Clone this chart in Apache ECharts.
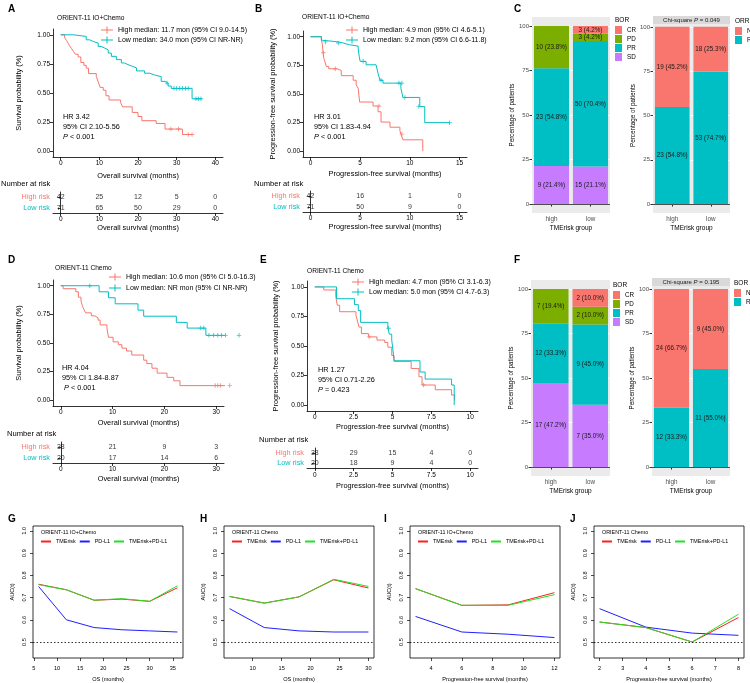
<!DOCTYPE html>
<html><head><meta charset="utf-8">
<script src="https://cdn.jsdelivr.net/npm/echarts@6/dist/echarts.min.js"></script>
<style>html,body{margin:0;padding:0;background:#fff}#c{width:750px;height:683px}</style>
</head><body><div id="c"></div>
<script>
// ================= DATA =================
// --- A: OS, ORIENT-11 IO+Chemo ---
const A_high_t = [0, 1.0, 1.5, 1.9, 2.3, 2.8, 3.3, 3.8, 4.5, 5.2, 6.0, 6.6, 7.2, 9.2, 9.7, 10.2, 11.0, 11.7, 12.5, 15.5, 16.0, 18.5, 20.0, 21.0, 24.7, 27.0, 31.5, 34.0];
const A_high_s = [1, 0.976, 0.952, 0.929, 0.905, 0.881, 0.857, 0.833, 0.810, 0.762, 0.738, 0.714, 0.667, 0.643, 0.595, 0.548, 0.524, 0.476, 0.440, 0.417, 0.381, 0.333, 0.298, 0.262, 0.238, 0.190, 0.143, 0.143];
const A_high_cens = [[28.5, 0.190], [30.5, 0.190], [33.0, 0.143], [34.0, 0.143]];
const A_low_t = [0, 3.4, 6.6, 7.5, 8.4, 9.7, 10.5, 11.4, 12.3, 13.1, 14.4, 15.7, 16.5, 17.4, 18.5, 19.6, 21.7, 23.0, 24.3, 26.0, 27.0, 27.8, 28.6, 34.0, 36.5];
const A_low_s = [1, 0.986, 0.957, 0.943, 0.929, 0.900, 0.886, 0.870, 0.843, 0.815, 0.787, 0.758, 0.744, 0.730, 0.716, 0.690, 0.670, 0.655, 0.640, 0.600, 0.585, 0.560, 0.540, 0.450, 0.450];
const A_low_cens = [[27.5, 0.585], [29.3, 0.54], [30.0, 0.54], [30.8, 0.54], [31.5, 0.54], [32.3, 0.54], [33.0, 0.54], [35.0, 0.45], [35.6, 0.45], [36.3, 0.45]];
const A_risk_times = [0, 10, 20, 30, 40];
const A_risk_high = [42, 25, 12, 5, 0];
const A_risk_low = [71, 65, 50, 29, 0];

// --- B: PFS, ORIENT-11 IO+Chemo ---
const B_high_t = [0, 1.1, 1.2, 1.27, 1.35, 1.44, 1.6, 1.84, 2.7, 3.1, 4.3, 4.6, 4.8, 4.95, 6.3, 6.8, 7.1, 8.0, 9.0, 9.1, 9.3, 11.3];
const B_high_s = [1, 0.976, 0.93, 0.86, 0.81, 0.785, 0.74, 0.72, 0.705, 0.66, 0.62, 0.58, 0.55, 0.43, 0.395, 0.345, 0.255, 0.21, 0.18, 0.15, 0.10, 0];
const B_high_cens = [[1.3, 0.86], [2.5, 0.72], [6.9, 0.395], [9.2, 0.15]];
const B_low_t = [0, 1.1, 1.3, 2.8, 3.3, 3.9, 4.8, 4.9, 5.0, 5.6, 6.6, 6.8, 7.0, 7.3, 9.1, 9.3, 11.0, 11.5, 14.0];
const B_low_s = [1, 0.97, 0.955, 0.945, 0.93, 0.918, 0.90, 0.83, 0.785, 0.755, 0.74, 0.68, 0.62, 0.595, 0.55, 0.47, 0.39, 0.25, 0.25];
const B_low_cens = [[1.5, 0.955], [2.8, 0.945], [5.3, 0.785], [7.1, 0.62], [8.9, 0.595], [9.2, 0.595], [9.5, 0.47], [10.9, 0.39], [14.0, 0.25]];
const B_risk_times = [0, 5, 10, 15];
const B_risk_high = [42, 16, 1, 0];
const B_risk_low = [71, 50, 9, 0];

// --- D: OS, ORIENT-11 Chemo ---
const D_high_t = [0, 0.45, 2.9, 3.4, 3.9, 4.2, 4.5, 4.8, 5.9, 6.6, 7.2, 7.6, 8.9, 9.2, 10.1, 11.1, 11.8, 12.7, 13.7, 16.0, 16.6, 17.6, 18.6, 20.5, 21.8, 23.0, 32.6];
const D_high_s = [1, 0.974, 0.947, 0.90, 0.868, 0.82, 0.79, 0.763, 0.737, 0.72, 0.70, 0.658, 0.632, 0.55, 0.51, 0.485, 0.455, 0.43, 0.395, 0.35, 0.32, 0.28, 0.237, 0.20, 0.17, 0.128, 0.128];
const D_high_cens = [[29.8, 0.128], [30.3, 0.128], [30.8, 0.128], [32.6, 0.128]];
const D_low_t = [0, 7.4, 9.2, 10.5, 14.9, 16.0, 22.3, 24.4, 28.0, 34.4];
const D_low_s = [1, 0.947, 0.895, 0.842, 0.787, 0.734, 0.68, 0.63, 0.567, 0.567];
const D_low_cens = [[5.6, 1], [27.0, 0.63], [27.6, 0.63], [28.6, 0.567], [29.5, 0.567], [30.3, 0.567], [31.0, 0.567], [31.8, 0.567], [34.4, 0.567]];
const D_risk_times = [0, 10, 20, 30];
const D_risk_high = [38, 21, 9, 3];
const D_risk_low = [20, 17, 14, 6];

// --- E: PFS, ORIENT-11 Chemo ---
const E_high_t = [0, 0.58, 1.35, 1.45, 1.6, 2.65, 2.73, 2.85, 3.0, 3.45, 4.0, 4.5, 4.7, 4.95, 5.1, 6.2, 6.7, 6.9, 7.75, 8.8, 9.0];
const E_high_s = [1, 0.974, 0.92, 0.845, 0.79, 0.76, 0.72, 0.66, 0.605, 0.577, 0.55, 0.53, 0.49, 0.42, 0.37, 0.31, 0.24, 0.17, 0.13, 0.085, 0.04];
const E_high_cens = [[3.5, 0.577], [7.0, 0.17]];
const E_low_t = [0, 1.4, 2.55, 2.8, 2.95, 4.7, 4.8, 4.95, 5.0, 5.1, 6.77, 7.1, 8.8, 8.97];
const E_low_s = [1, 0.90, 0.85, 0.80, 0.70, 0.65, 0.60, 0.55, 0.50, 0.375, 0.28, 0.22, 0.17, 0];
const E_low_cens = [[4.75, 0.65]];
const E_risk_times = [0, 2.5, 5, 7.5, 10];
const E_risk_high = [38, 29, 15, 4, 0];
const E_risk_low = [20, 18, 9, 4, 0];

// --- C / F: response bars (stack order bottom -> top) ---
const groups = ['high', 'low'];
const bor_levels = ['SD', 'PR', 'PD', 'CR'];
const orr_levels = ['R', 'NR'];
const C_bor_n_SD = [9, 15],  C_bor_pct_SD = [21.4, 21.1];
const C_bor_n_PR = [23, 50], C_bor_pct_PR = [54.8, 70.4];
const C_bor_n_PD = [10, 3],  C_bor_pct_PD = [23.8, 4.2];
const C_bor_n_CR = [0, 3],   C_bor_pct_CR = [0, 4.2];
const C_orr_n_R = [23, 53],  C_orr_pct_R = [54.8, 74.7];
const C_orr_n_NR = [19, 18], C_orr_pct_NR = [45.2, 25.3];
const C_chisq_p = '0.049';
const F_bor_n_SD = [17, 7],  F_bor_pct_SD = [47.2, 35.0];
const F_bor_n_PR = [12, 9],  F_bor_pct_PR = [33.3, 45.0];
const F_bor_n_PD = [7, 2],   F_bor_pct_PD = [19.4, 10.0];
const F_bor_n_CR = [0, 2],   F_bor_pct_CR = [0, 10.0];
const F_orr_n_R = [12, 11],  F_orr_pct_R = [33.3, 55.0];
const F_orr_n_NR = [24, 9],  F_orr_pct_NR = [66.7, 45.0];
const F_chisq_p = '0.195';

// --- G-J: time-dependent AUC ---
const G_t = [6, 12, 18, 24, 30, 36];
const G_tme = [0.76, 0.735, 0.688, 0.693, 0.683, 0.744];
const G_pdl1 = [0.75, 0.60, 0.565, 0.555, 0.55, 0.545];
const G_comb = [0.758, 0.735, 0.688, 0.695, 0.683, 0.753];
const H_t = [6, 12, 18, 24, 30];
const H_tme = [0.705, 0.675, 0.703, 0.78, 0.743];
const H_pdl1 = [0.65, 0.565, 0.55, 0.545, 0.545];
const H_comb = [0.705, 0.675, 0.703, 0.782, 0.75];
const I_t = [3, 6, 9, 12];
const I_tme = [0.74, 0.665, 0.667, 0.722];
const I_pdl1 = [0.615, 0.545, 0.535, 0.52];
const I_comb = [0.74, 0.665, 0.665, 0.713];
const J_t = [2, 4, 6, 8];
const J_tme = [0.59, 0.565, 0.50, 0.61];
const J_pdl1 = [0.65, 0.567, 0.54, 0.53];
const J_comb = [0.59, 0.565, 0.50, 0.625];

// ================= BUILD =================
const FONT = '"Liberation Sans", Arial, sans-serif';
const RED = '#F8766D', TEAL = '#00BFC4';
const BOR_COL = {CR: '#F8766D', PD: '#7CAE00', PR: '#00BFC4', SD: '#C77CFF'};
const ORR_COL = {NR: '#F8766D', R: '#00BFC4'};
const ROC_RED = '#FF2020', ROC_BLUE = '#2020FF', ROC_GREEN = '#22E022';
const grid = [], xAxis = [], yAxis = [], series = [], legend = [], graphic = [];
const PLUS = 'path://M2,0h1v5h-1z M0,2h5v1h-5z';
const KMICON = 'path://M0,3h12v1H0z M5.5,0h1v7h-1z';

function T(x, y, text, o) {
  o = o || {};
  const st = {text: text, fill: o.color || '#000', fontSize: o.size || 7, fontFamily: FONT,
    fontWeight: o.bold ? 'bold' : 'normal', align: o.align || 'left', verticalAlign: 'middle'};
  if (o.italicP) st.rich = {i: {fontStyle: 'italic', fontSize: o.size || 7, fontFamily: FONT, fill: o.color || '#000'}};
  graphic.push({type: 'text', x: x, y: y, rotation: o.rot || 0, silent: true, z: 100, style: st});
}
function axText(size, color) { return {fontSize: size, color: color || '#000', fontFamily: FONT}; }

function km(c) {
  const gi = grid.length;
  grid.push({left: c.left, top: c.top, width: c.width, height: c.height});
  xAxis.push({type: 'value', gridIndex: gi, min: c.xmin, max: c.xmax,
    axisLine: {show: true, onZero: false, lineStyle: {color: '#000', width: 0.8}},
    axisTick: {show: true, customValues: c.xticks, length: 3, lineStyle: {color: '#000', width: 0.8}},
    axisLabel: Object.assign({customValues: c.xticks, margin: 3}, axText(6.5)),
    splitLine: {show: false}, name: c.xname, nameLocation: 'middle', nameGap: c.xgap,
    nameTextStyle: axText(7.4)});
  yAxis.push({type: 'value', gridIndex: gi, min: -0.05, max: 1.05,
    axisLine: {show: true, onZero: false, lineStyle: {color: '#000', width: 0.8}},
    axisTick: {show: true, customValues: [0, 0.25, 0.5, 0.75, 1], length: 3, lineStyle: {color: '#000', width: 0.8}},
    axisLabel: Object.assign({customValues: [0, 0.25, 0.5, 0.75, 1], margin: 3, formatter: v => v.toFixed(2)}, axText(6.5)),
    splitLine: {show: false}, name: c.yname, nameLocation: 'middle', nameGap: c.ygap, nameRotate: 90,
    nameTextStyle: axText(7.4)});
  const names = [];
  c.curves.forEach(cv => {
    names.push(cv.name);
    series.push({type: 'line', name: cv.name, xAxisIndex: gi, yAxisIndex: gi, step: 'end', clip: false,
      data: cv.t.map((t, i) => [t, cv.s[i]]), symbol: 'none', showSymbol: false,
      lineStyle: {color: cv.color, width: 1}, itemStyle: {color: cv.color}, silent: true});
    series.push({type: 'scatter', xAxisIndex: gi, yAxisIndex: gi, data: cv.cens, symbol: PLUS, symbolSize: 4.5,
      itemStyle: {color: cv.color}, silent: true, clip: false});
  });
  legend.push({left: c.legLeft, top: c.legTop, orient: 'vertical', data: names, icon: KMICON,
    itemWidth: 12, itemHeight: 7, itemGap: c.legGap, selectedMode: false, padding: 0,
    textStyle: axText(7), itemStyle: {borderWidth: 0}});
}

function riskTable(c) {
  const gi = grid.length;
  grid.push({left: c.left, top: c.top, width: c.width, height: c.height});
  xAxis.push({type: 'value', gridIndex: gi, min: c.xmin, max: c.xmax,
    axisLine: {show: true, onZero: false, lineStyle: {color: '#000', width: 0.8}},
    axisTick: {show: true, customValues: c.xticks, length: 3, lineStyle: {color: '#000', width: 0.8}},
    axisLabel: Object.assign({customValues: c.xticks, margin: c.labMargin || 3}, axText(6.5)),
    splitLine: {show: false}, name: c.xname, nameLocation: 'middle', nameGap: c.xgap, nameTextStyle: axText(7.4)});
  yAxis.push({type: 'category', gridIndex: gi, data: ['High risk', 'Low risk'], inverse: true,
    axisLine: {show: true, lineStyle: {color: '#000', width: 0.8}},
    axisTick: {show: true, alignWithLabel: true, length: 3, lineStyle: {color: '#000', width: 0.8}},
    axisLabel: {fontSize: 7.3, fontFamily: FONT, margin: 3, color: (v) => v === 'High risk' ? RED : TEAL},
    splitLine: {show: false}});
  const mk = (arr, lab) => c.times.map((t, i) => [t, lab, arr[i]]);
  series.push({type: 'scatter', xAxisIndex: gi, yAxisIndex: gi, symbolSize: 2, itemStyle: {color: 'rgba(0,0,0,0)'}, silent: true,
    data: mk(c.high, 'High risk').concat(mk(c.low, 'Low risk')), z: 10,
    label: {show: true, position: 'inside', formatter: p => String(p.data[2]), fontSize: 7, fontFamily: FONT, color: '#000'}});
  T(c.nLeft, c.nY, 'Number at risk', {size: 7.6});
}

function bars(c) {
  const gi = grid.length;
  grid.push({left: c.left, top: c.top, width: c.width, height: c.height, show: true, backgroundColor: '#EBEBEB', borderWidth: 0});
  xAxis.push({type: 'category', gridIndex: gi, data: groups,
    axisLine: {show: false}, axisTick: {show: true, alignWithLabel: true, length: 2.5, lineStyle: {color: '#333'}},
    axisLabel: Object.assign({margin: 3}, axText(6.3, '#4D4D4D')),
    splitLine: {show: false}, name: 'TMErisk group', nameLocation: 'middle', nameGap: 12, nameTextStyle: axText(6.5)});
  const yt = [0, 25, 50, 75, 100];
  yAxis.push({type: 'value', gridIndex: gi, min: -5, max: 105,
    axisLine: {show: false}, axisTick: {show: true, customValues: yt, length: 2.5, lineStyle: {color: '#333'}},
    axisLabel: Object.assign({customValues: yt, margin: 3}, axText(6, '#4D4D4D')),
    splitLine: {show: true, lineStyle: {color: '#FFFFFF', width: 0.9}},
    name: 'Percentage of patients', nameLocation: 'middle', nameGap: c.ygap, nameRotate: 90, nameTextStyle: axText(6.3)});
  c.levels.forEach((lv, k) => {
    const pct = c.pct[lv], n = c.n[lv];
    const s = {type: 'bar', name: lv, xAxisIndex: gi, yAxisIndex: gi, stack: 'st' + gi, barCategoryGap: '10%',
      data: pct, itemStyle: {color: c.colors[lv]}, silent: true,
      label: {show: true, position: 'inside', fontSize: 6.3, fontFamily: FONT, color: '#1a1a1a',
        formatter: p => p.value > 0 ? n[p.dataIndex] + ' (' + pct[p.dataIndex].toFixed(1) + '%)' : ''}};
    if (k === 0) s.markLine = {silent: true, symbol: 'none', data: [{yAxis: 0}], label: {show: false},
      lineStyle: {color: '#4D4D4D', width: 1, type: 'solid'}};
    series.push(s);
  });
  legend.push({left: c.legLeft, top: c.legTop, orient: 'vertical', data: c.levels.slice().reverse(), icon: 'rect',
    itemWidth: 7, itemHeight: 8, itemGap: 1, selectedMode: false, padding: 0, textStyle: axText(6.3)});
  T(c.legLeft, c.legTop - 6, c.legTitle, {size: 6.5});
  if (c.strip) {
    graphic.push({type: 'rect', silent: true, z: 50, shape: {x: c.left, y: c.top - 2, width: c.width, height: 8},
      style: {fill: '#D9D9D9'}});
    T(c.left + c.width / 2, c.top + 2, 'Chi-square {i|P} = ' + c.strip, {size: 6, align: 'center', italicP: true, color: '#1a1a1a'});
  }
}

function roc(c) {
  const gi = grid.length;
  grid.push({left: c.left, top: 526, width: 150, height: 132, show: true, borderColor: '#000', borderWidth: 0.8, backgroundColor: 'transparent'});
  xAxis.push({type: 'value', gridIndex: gi, min: c.xmin, max: c.xmax,
    axisLine: {show: false}, axisTick: {show: true, customValues: c.xticks, length: 3, lineStyle: {color: '#000', width: 0.7}},
    axisLabel: Object.assign({customValues: c.xticks, margin: 7}, axText(5.6)),
    splitLine: {show: false}, name: c.xname, nameLocation: 'middle', nameGap: 18, nameTextStyle: axText(5.6)});
  const yt = [0.5, 0.6, 0.7, 0.8, 0.9, 1.0];
  yAxis.push({type: 'value', gridIndex: gi, min: 0.428, max: 1.022,
    axisLine: {show: false}, axisTick: {show: true, customValues: yt, length: 3, lineStyle: {color: '#000', width: 0.7}},
    axisLabel: Object.assign({customValues: yt, margin: 6, rotate: 90, formatter: v => v.toFixed(1)}, axText(5.6)),
    splitLine: {show: false}, name: 'AUC(t)', nameLocation: 'middle', nameGap: 18, nameRotate: 90, nameTextStyle: axText(5.6)});
  const ln = (name, vals, col, extra) => Object.assign({type: 'line', name: name, xAxisIndex: gi, yAxisIndex: gi,
    data: c.t.map((t, i) => [t, vals[i]]), symbol: 'none', showSymbol: false, silent: true,
    lineStyle: {color: col, width: 1}, itemStyle: {color: col}}, extra || {});
  series.push(ln('TMErisk', c.tme, ROC_RED, {markLine: {silent: true, symbol: 'none', data: [{yAxis: 0.5}], label: {show: false},
    lineStyle: {color: '#000', width: 0.8, type: [1.5, 2]}}}));
  series.push(ln('PD-L1', c.pdl1, ROC_BLUE));
  series.push(ln('TMErisk+PD-L1', c.comb, ROC_GREEN));
  legend.push({left: c.left + 8, top: 539, data: ['TMErisk', 'PD-L1', 'TMErisk+PD-L1'], icon: 'rect',
    itemWidth: 10, itemHeight: 2, itemGap: 4, selectedMode: false, padding: 0,
    textStyle: Object.assign({width: 28}, axText(5.4))});
  T(c.left + 8, 533, c.title, {size: 5.4});
  T(c.letterX, 519, c.letter, {size: 10, bold: true});
}

// ---- A ----
T(8, 9, 'A', {size: 10, bold: true});
T(57, 18, 'ORIENT-11 IO+Chemo', {size: 6.6});
km({left: 53, top: 29, width: 170, height: 128, xmin: -2, xmax: 42, xticks: [0, 10, 20, 30, 40],
  xname: 'Overall survival (months)', xgap: 15, yname: 'Survival probability (%)', ygap: 31,
  legLeft: 101, legTop: 26.5, legGap: 3,
  curves: [
    {name: 'High median: 11.7 mon (95% CI 9.0-14.5)', color: RED, t: A_high_t, s: A_high_s, cens: A_high_cens},
    {name: 'Low median: 34.0 mon (95% CI NR-NR)', color: TEAL, t: A_low_t, s: A_low_s, cens: A_low_cens}]});
T(63, 117, 'HR 3.42', {size: 7.3});
T(63, 127, '95% CI 2.10-5.56', {size: 7.3});
T(63, 137, '{i|P} < 0.001', {size: 7.3, italicP: true});
riskTable({left: 53, top: 192, width: 170, height: 21, xmin: -2, xmax: 42, xticks: A_risk_times, times: A_risk_times,
  high: A_risk_high, low: A_risk_low, xname: 'Overall survival (months)', xgap: 11, nLeft: 1, nY: 184});

// ---- B ----
T(255, 9, 'B', {size: 10, bold: true});
T(302, 17, 'ORIENT-11 IO+Chemo', {size: 6.6});
km({left: 303, top: 31, width: 164, height: 126, xmin: -0.75, xmax: 15.75, xticks: [0, 5, 10, 15],
  xname: 'Progression-free survival (months)', xgap: 13, yname: 'Progression-free survival probability (%)', ygap: 27,
  legLeft: 346, legTop: 26.5, legGap: 3,
  curves: [
    {name: 'High median: 4.9 mon (95% CI 4.6-5.1)', color: RED, t: B_high_t, s: B_high_s, cens: B_high_cens},
    {name: 'Low median: 9.2 mon (95% CI 6.6-11.8)', color: TEAL, t: B_low_t, s: B_low_s, cens: B_low_cens}]});
T(314, 117, 'HR 3.01', {size: 7.3});
T(314, 127, '95% CI 1.83-4.94', {size: 7.3});
T(314, 137, '{i|P} < 0.001', {size: 7.3, italicP: true});
riskTable({left: 303, top: 191, width: 164, height: 21, xmin: -0.75, xmax: 15.75, xticks: B_risk_times, times: B_risk_times,
  high: B_risk_high, low: B_risk_low, xname: 'Progression-free survival (months)', xgap: 11, nLeft: 254, nY: 184});

// ---- C ----
T(514, 9, 'C', {size: 10, bold: true});
bars({left: 532, top: 17, width: 78, height: 196, ygap: 17, levels: bor_levels, colors: BOR_COL,
  n: {SD: C_bor_n_SD, PR: C_bor_n_PR, PD: C_bor_n_PD, CR: C_bor_n_CR},
  pct: {SD: C_bor_pct_SD, PR: C_bor_pct_PR, PD: C_bor_pct_PD, CR: C_bor_pct_CR},
  legLeft: 615, legTop: 26, legTitle: 'BOR'});
bars({left: 653, top: 18, width: 77, height: 195, ygap: 17, levels: orr_levels, colors: ORR_COL,
  n: {R: C_orr_n_R, NR: C_orr_n_NR}, pct: {R: C_orr_pct_R, NR: C_orr_pct_NR},
  legLeft: 735, legTop: 27, legTitle: 'ORR', strip: C_chisq_p});

// ---- D ----
T(8, 260, 'D', {size: 10, bold: true});
T(55, 268, 'ORIENT-11 Chemo', {size: 6.6});
km({left: 53, top: 280, width: 171, height: 126, xmin: -1.5, xmax: 31.5, xticks: [0, 10, 20, 30],
  xname: 'Overall survival (months)', xgap: 13, yname: 'Survival probability (%)', ygap: 31,
  legLeft: 109, legTop: 273.5, legGap: 4,
  curves: [
    {name: 'High median: 10.6 mon (95% CI 5.0-16.3)', color: RED, t: D_high_t, s: D_high_s, cens: D_high_cens},
    {name: 'Low median: NR mon (95% CI NR-NR)', color: TEAL, t: D_low_t, s: D_low_s, cens: D_low_cens}]});
T(62, 368, 'HR 4.04', {size: 7.3});
T(62, 378, '95% CI 1.84-8.87', {size: 7.3});
T(64, 388, '{i|P} < 0.001', {size: 7.3, italicP: true});
riskTable({left: 53, top: 442, width: 171, height: 21, xmin: -1.5, xmax: 31.5, xticks: D_risk_times, times: D_risk_times,
  high: D_risk_high, low: D_risk_low, xname: 'Overall survival (months)', xgap: 12, nLeft: 7, nY: 434});

// ---- E ----
T(260, 260, 'E', {size: 10, bold: true});
T(307, 271, 'ORIENT-11 Chemo', {size: 6.6});
km({left: 307, top: 281, width: 171, height: 130, xmin: -0.5, xmax: 10.5, xticks: [0, 2.5, 5, 7.5, 10],
  xname: 'Progression-free survival (months)', xgap: 12, yname: 'Progression-free survival probability (%)', ygap: 28,
  legLeft: 352, legTop: 278.5, legGap: 3,
  curves: [
    {name: 'High median: 4.7 mon (95% CI 3.1-6.3)', color: RED, t: E_high_t, s: E_high_s, cens: E_high_cens},
    {name: 'Low median: 5.0 mon (95% CI 4.7-6.3)', color: TEAL, t: E_low_t, s: E_low_s, cens: E_low_cens}]});
T(318, 370, 'HR 1.27', {size: 7.3});
T(318, 380, '95% CI 0.71-2.26', {size: 7.3});
T(318, 390, '{i|P} = 0.423', {size: 7.3, italicP: true});
riskTable({left: 307, top: 448, width: 171, height: 20, xmin: -0.5, xmax: 10.5, xticks: E_risk_times, times: E_risk_times,
  high: E_risk_high, low: E_risk_low, xname: 'Progression-free survival (months)', xgap: 14, labMargin: 4, nLeft: 259, nY: 440});

// ---- F ----
T(514, 260, 'F', {size: 10, bold: true});
bars({left: 531, top: 280, width: 79, height: 196, ygap: 17, levels: bor_levels, colors: BOR_COL,
  n: {SD: F_bor_n_SD, PR: F_bor_n_PR, PD: F_bor_n_PD, CR: F_bor_n_CR},
  pct: {SD: F_bor_pct_SD, PR: F_bor_pct_PR, PD: F_bor_pct_PD, CR: F_bor_pct_CR},
  legLeft: 613, legTop: 291, legTitle: 'BOR'});
bars({left: 652, top: 280, width: 78, height: 196, ygap: 17, levels: orr_levels, colors: ORR_COL,
  n: {R: F_orr_n_R, NR: F_orr_n_NR}, pct: {R: F_orr_pct_R, NR: F_orr_pct_NR},
  legLeft: 734, legTop: 289, legTitle: 'BOR', strip: F_chisq_p});

// ---- G-J ----
roc({left: 33, letter: 'G', letterX: 8, title: 'ORIENT-11 IO+Chemo', xmin: 4.8, xmax: 37.2, xticks: [5, 10, 15, 20, 25, 30, 35],
  xname: 'OS (months)', t: G_t, tme: G_tme, pdl1: G_pdl1, comb: G_comb});
roc({left: 224, letter: 'H', letterX: 200, title: 'ORIENT-11 Chemo', xmin: 5.04, xmax: 30.96, xticks: [5, 10, 15, 20, 25, 30],
  xname: 'OS (months)', t: H_t, tme: H_tme, pdl1: H_pdl1, comb: H_comb});
roc({left: 410, letter: 'I', letterX: 384, title: 'ORIENT-11 IO+Chemo', xmin: 2.64, xmax: 12.36, xticks: [4, 6, 8, 10, 12],
  xname: 'Progression-free survival (months)', t: I_t, tme: I_tme, pdl1: I_pdl1, comb: I_comb});
roc({left: 594, letter: 'J', letterX: 570, title: 'ORIENT-11 Chemo', xmin: 1.76, xmax: 8.24, xticks: [2, 3, 4, 5, 6, 7, 8],
  xname: 'Progression-free survival (months)', t: J_t, tme: J_tme, pdl1: J_pdl1, comb: J_comb});

const chart = echarts.init(document.getElementById('c'), null, {renderer: 'canvas'});
chart.setOption({animation: false, backgroundColor: '#fff', textStyle: {fontFamily: FONT},
  grid: grid, xAxis: xAxis, yAxis: yAxis, series: series, legend: legend, graphic: graphic});
</script></body></html>
